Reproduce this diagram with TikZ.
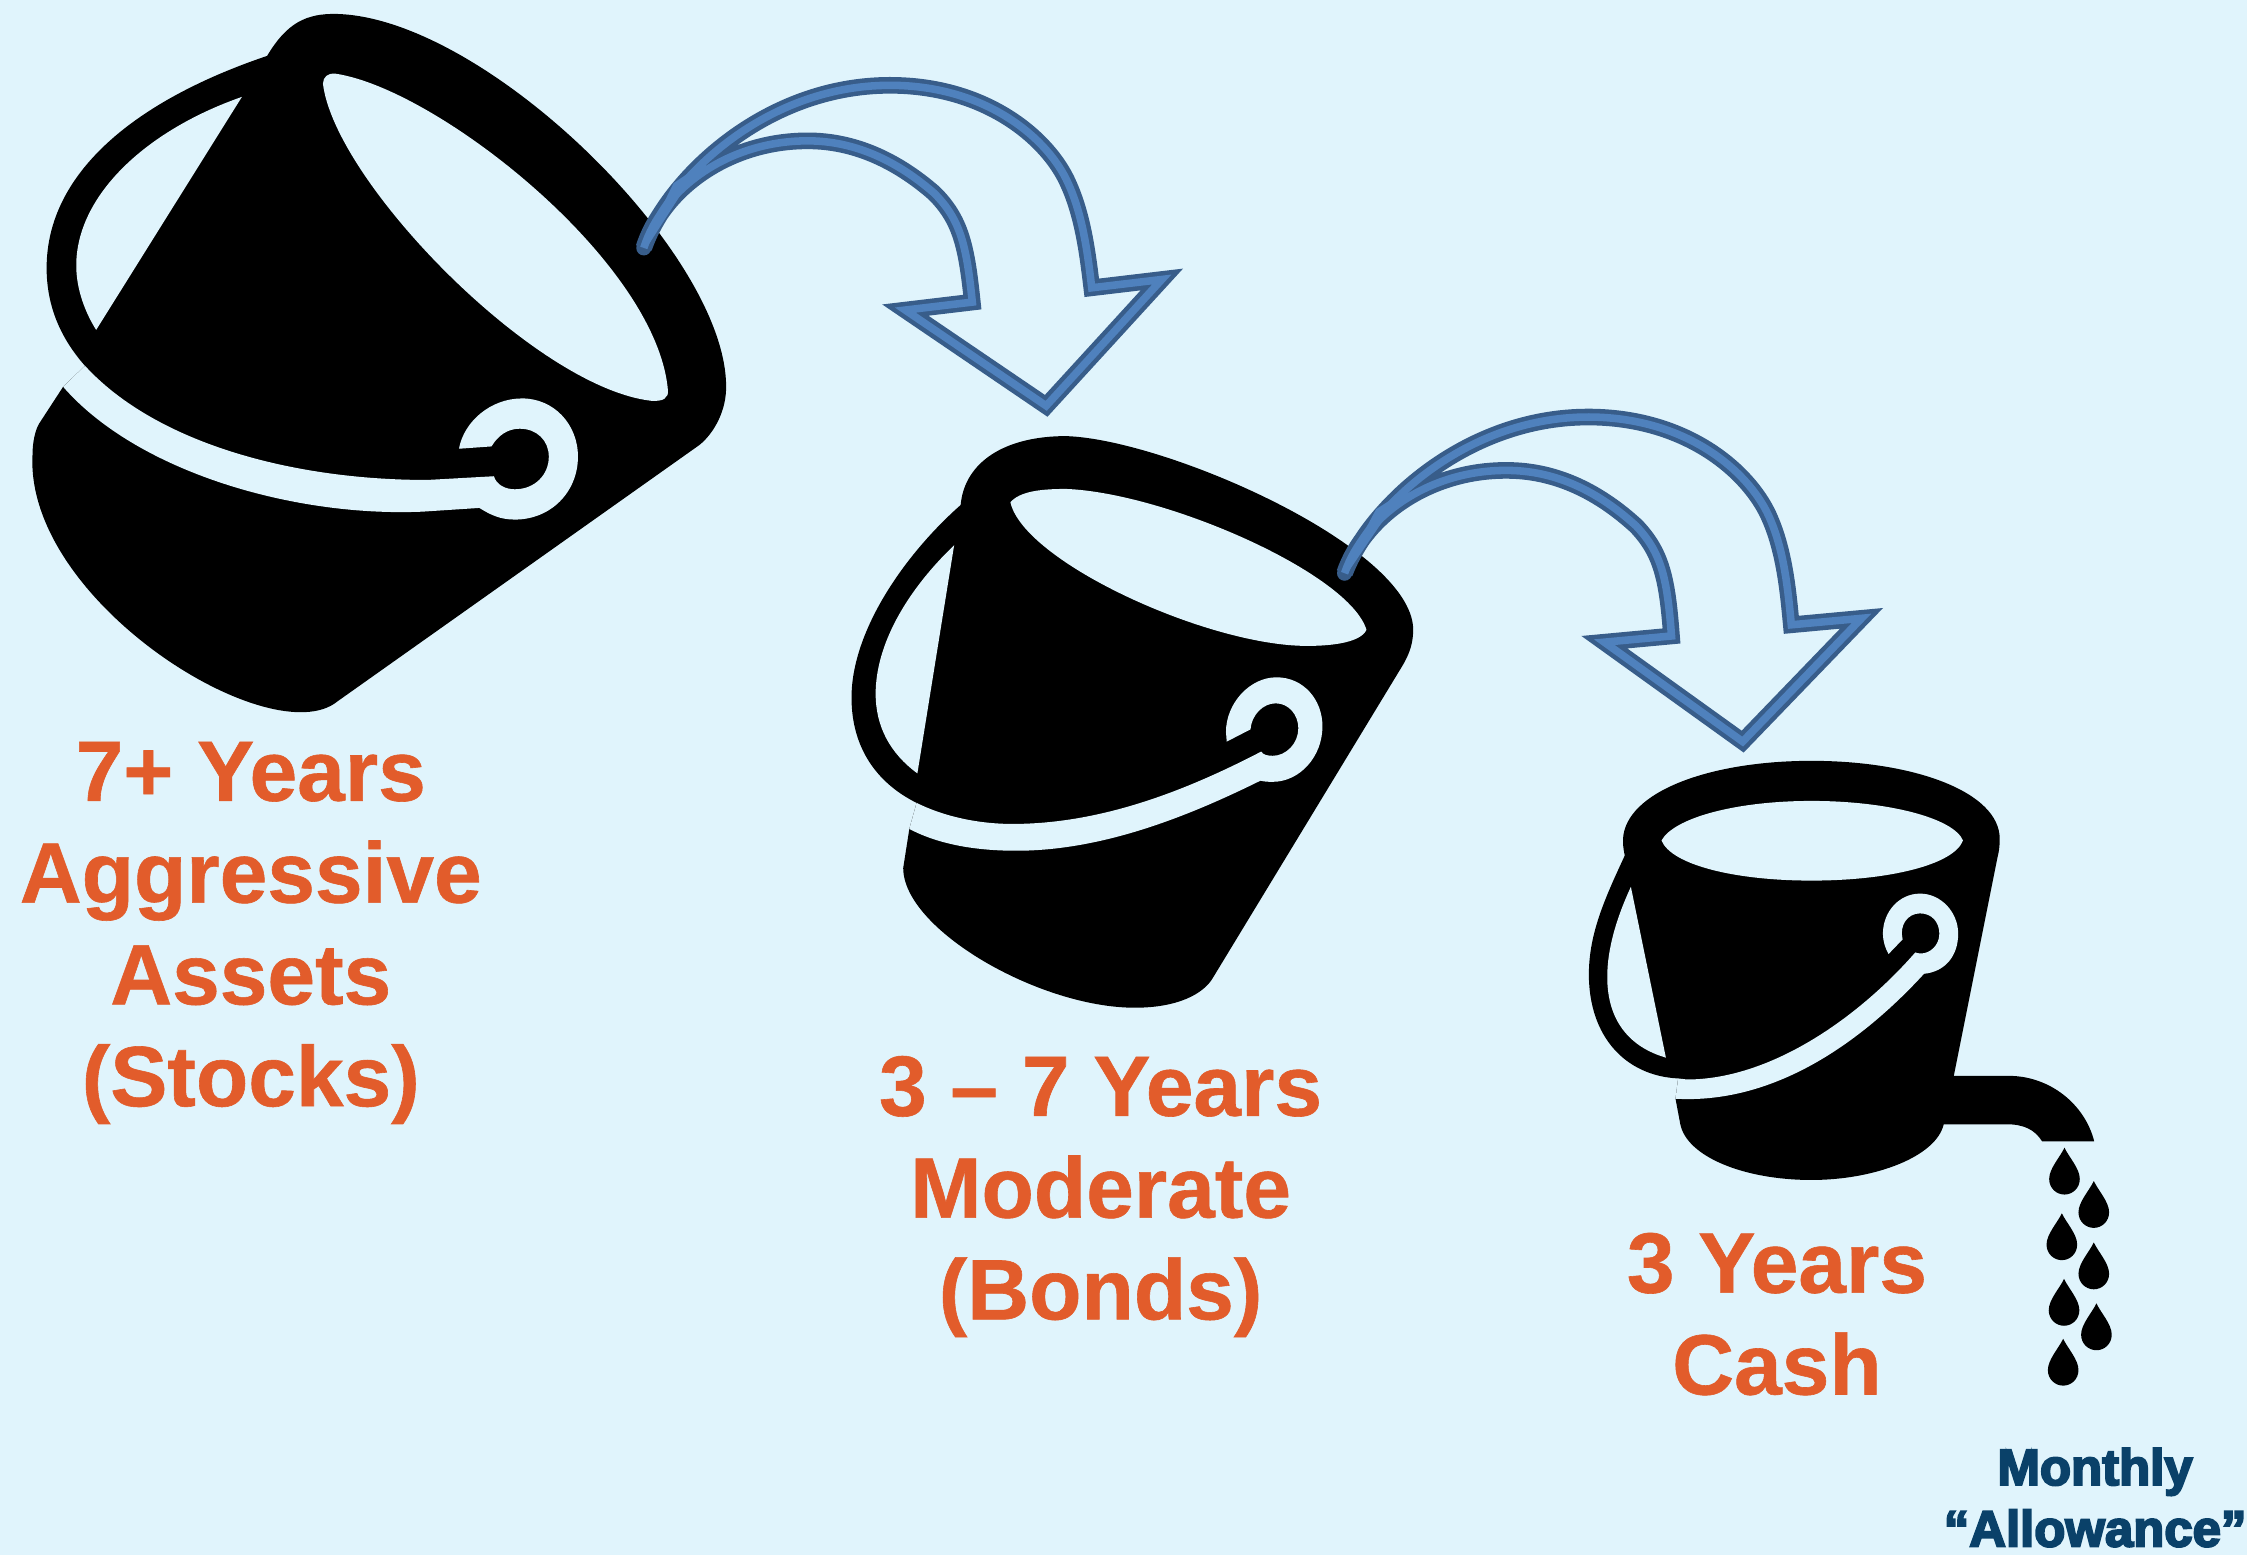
\documentclass[tikz,border=0pt]{standalone}
\usepackage{fontspec}
\setmainfont{Liberation Sans}[BoldFont={Liberation Sans Bold},BoldFeatures={FakeBold=0.7}]
\newfontfamily\allowfont{Liberation Sans}[BoldFont={Liberation Sans Bold},BoldFeatures={FakeBold=4}]
\definecolor{skybg}{HTML}{E0F4FC}
\definecolor{termorange}{HTML}{E25C2B}
\definecolor{allownavy}{HTML}{0A4169}
\definecolor{arrowcore}{HTML}{4F81BD}
\definecolor{arrowedge}{HTML}{385D8A}
\tikzset{
  pail/.style={fill=black},
  gap/.style={fill=skybg},
  termlabel/.style={text=termorange,font=\fontsize{17}{20.2}\selectfont\bfseries,align=center,inner sep=0pt},
  allowlabel/.style={text=allownavy,font=\allowfont\fontsize{10.1}{12.2}\selectfont\bfseries,align=center,inner sep=0pt},
  arrowline/.style={line join=miter,miter limit=8,line cap=round,line width=#1}
}
\newcommand{\pourarrow}{
  (62,565) .. controls (120,370) and (370,76) .. (705,76)
  .. controls (960,76) and (1120,240) .. (1170,370)
  .. controls (1210,470) and (1222,590) .. (1232,685)
  -- (1415,660) -- (1113,1040) -- (745,752) -- (920,728)
  .. controls (905,560) and (890,480) .. (820,400)
  .. controls (720,300) and (610,243) .. (490,243)
  .. controls (280,243) and (110,390) .. (62,565) -- cycle
}
\newcommand{\pourtail}{
  (58,560) -- (140,370) -- (198,325) -- (175,375) -- (72,560) -- cycle
}
\begin{document}
\begin{tikzpicture}[x=0.01cm,y=-0.01cm]
\fill[skybg] (0,0) rectangle (1568,1085);
\useasboundingbox (0,0) rectangle (1568,1085);
% stocks pail
\begin{scope}[x=0.003382cm,y=-0.003249cm]
\fill[pail] (550,120) .. controls (590,50) and (630,28) .. (695,30)
  .. controls (1000,40) and (1490,540) .. (1495,825)
  .. controls (1497,880) and (1470,930) .. (1440,955)
  -- (695,1505) .. controls (560,1620) and (50,1290) .. (67,975)
  .. controls (67,950) and (72,925) .. (80,910) -- (130,830) -- (175,785)
  .. controls (120,720) and (96,650) .. (96,575)
  .. controls (96,370) and (280,215) .. (550,120) -- cycle;
\fill[gap] (690,158) .. controls (900,190) and (1350,560) .. (1375,835)
  .. controls (1378,855) and (1365,862) .. (1340,860)
  .. controls (1100,830) and (690,390) .. (665,180)
  .. controls (665,165) and (675,157) .. (690,158) -- cycle;
\fill[gap] (498,208) .. controls (300,280) and (157,420) .. (157,570)
  .. controls (157,620) and (175,670) .. (198,708) -- cycle;
\fill[gap] (130,830) .. controls (280,1010) and (600,1110) .. (870,1098) -- (987,1090)
  .. controls (1010,1105) and (1030,1115) .. (1060,1115)
  .. controls (1135,1115) and (1190,1055) .. (1190,980)
  .. controls (1190,910) and (1140,855) .. (1075,855)
  .. controls (1010,855) and (955,905) .. (945,963) -- (1012,958)
  .. controls (1025,935) and (1045,920) .. (1070,920)
  .. controls (1105,920) and (1130,945) .. (1130,980)
  .. controls (1130,1020) and (1100,1050) .. (1060,1050)
  .. controls (1040,1050) and (1022,1040) .. (1017,1022) -- (880,1030)
  .. controls (600,1030) and (320,950) .. (175,785) -- cycle;
\end{scope}
% bonds pail
\begin{scope}[shift={(586.2,293.1)},x=0.0026706cm,y=-0.0026706cm]
\fill[pail] (315,222) .. controls (325,110) and (430,42) .. (590,42)
  .. controls (850,50) and (1490,330) .. (1497,545)
  .. controls (1497,580) and (1490,605) .. (1470,640)
  -- (975,1455) .. controls (950,1500) and (880,1535) .. (770,1535)
  .. controls (520,1535) and (165,1330) .. (165,1170)
  -- (181,1068) -- (200,1000)
  .. controls (90,945) and (30,850) .. (30,725)
  .. controls (30,550) and (170,350) .. (315,222) -- cycle;
\fill[gap] (445,215) .. controls (470,185) and (530,180) .. (590,180)
  .. controls (850,190) and (1330,400) .. (1375,548)
  .. controls (1360,580) and (1290,590) .. (1220,590)
  .. controls (960,590) and (480,370) .. (445,215) -- cycle;
\fill[gap] (298,327) .. controls (170,450) and (93,590) .. (93,715)
  .. controls (93,800) and (130,870) .. (202,923) -- cycle;
\fill[gap] (181,1068) .. controls (260,1110) and (360,1125) .. (460,1125)
  .. controls (680,1125) and (900,1040) .. (1098,942)
  .. controls (1110,945) and (1120,945) .. (1130,945)
  .. controls (1200,945) and (1260,880) .. (1260,800)
  .. controls (1260,730) and (1210,672) .. (1140,672)
  .. controls (1070,672) and (1008,740) .. (1008,815) -- (1010,840) -- (1072,808)
  .. controls (1075,770) and (1105,740) .. (1138,740)
  .. controls (1172,740) and (1197,770) .. (1197,805)
  .. controls (1197,845) and (1165,877) .. (1130,877)
  .. controls (1118,877) and (1105,875) .. (1100,866)
  .. controls (900,970) and (680,1055) .. (450,1055)
  .. controls (360,1055) and (270,1035) .. (200,1000) -- cycle;
\end{scope}
% cash pail with spout and drops
\begin{scope}[shift={(1088.6,516.4)},x=0.003058cm,y=-0.003627cm]
\fill[pail] (148,222) .. controls (144,205) and (144,200) .. (144,190)
  .. controls (150,100) and (340,40) .. (575,40)
  .. controls (810,40) and (1005,100) .. (1005,190)
  .. controls (1005,205) and (1003,215) .. (1000,225)
  -- (900,645) -- (1025,645) .. controls (1120,645) and (1200,700) .. (1221,771)
  -- (1102,771) .. controls (1085,748) and (1060,738) .. (1020,738) -- (877,738)
  .. controls (860,800) and (720,845) .. (575,845)
  .. controls (420,845) and (290,800) .. (275,738) -- (264,689) -- (270,650)
  .. controls (150,645) and (66,570) .. (66,450)
  .. controls (66,370) and (105,300) .. (148,222) -- cycle;
\fill[gap] (232,193) .. controls (260,150) and (400,117) .. (575,117)
  .. controls (750,117) and (900,150) .. (921,193)
  .. controls (900,240) and (750,270) .. (575,270)
  .. controls (400,270) and (255,240) .. (232,193) -- cycle;
\fill[gap] (162,282) .. controls (130,340) and (108,400) .. (108,455)
  .. controls (108,540) and (160,590) .. (242,610) -- cycle;
\fill[gap] (264,689) .. controls (500,700) and (700,570) .. (832,449)
  .. controls (880,445) and (910,415) .. (910,372)
  .. controls (910,330) and (870,295) .. (823,295)
  .. controls (775,295) and (738,330) .. (738,372)
  .. controls (738,385) and (743,400) .. (751,411) -- (783,383)
  .. controls (775,355) and (795,333) .. (823,333)
  .. controls (850,333) and (867,350) .. (867,372)
  .. controls (867,395) and (845,410) .. (825,410)
  .. controls (820,410) and (815,409) .. (812,408)
  .. controls (680,535) and (480,652) .. (290,652) -- (270,650) -- cycle;
\foreach \dropx/\dropy in {1153/783,1220/847,1147/909,1220/965,1152/1035,1226/1082,1150/1150}
  \fill[pail,shift={(\dropx,\dropy)}] (0,0) .. controls (10,18) and (35,40) .. (35,60)
    .. controls (35,78) and (18,90) .. (0,90) .. controls (-18,90) and (-35,78) .. (-35,60)
    .. controls (-35,40) and (-10,18) .. (0,0) -- cycle;
\end{scope}
% pouring arrows
\begin{scope}[shift={(432.7,41.9)},x=0.0026706cm,y=-0.002326cm]
\fill[arrowedge] (62,565) circle (1.5pt);
\draw[arrowedge,arrowline=3.3pt] \pourarrow;
\draw[arrowcore,arrowline=1.5pt] \pourarrow;
\fill[arrowcore] \pourtail;
\end{scope}
\begin{scope}[shift={(921.7,268.9)},x=0.0026706cm,y=-0.002326cm,rotate around={-1.5:(62,565)}]
\fill[arrowedge] (62,565) circle (1.5pt);
\draw[arrowedge,arrowline=3.3pt] \pourarrow;
\draw[arrowcore,arrowline=1.5pt] \pourarrow;
\fill[arrowcore] \pourtail;
\end{scope}
% labels
\node[termlabel] (stocks) at (175,651) {7+ Years\\Aggressive\\Assets\\(Stocks)};
\node[termlabel] (bonds) at (768,835) {3 -- 7 Years\\Moderate\\(Bonds)};
\node[termlabel] (cash) at (1240,917) {3 Years\\Cash};
\node[allowlabel] (allowance) at (1462,1045) {Monthly\\“Allowance”};
\end{tikzpicture}
\end{document}
